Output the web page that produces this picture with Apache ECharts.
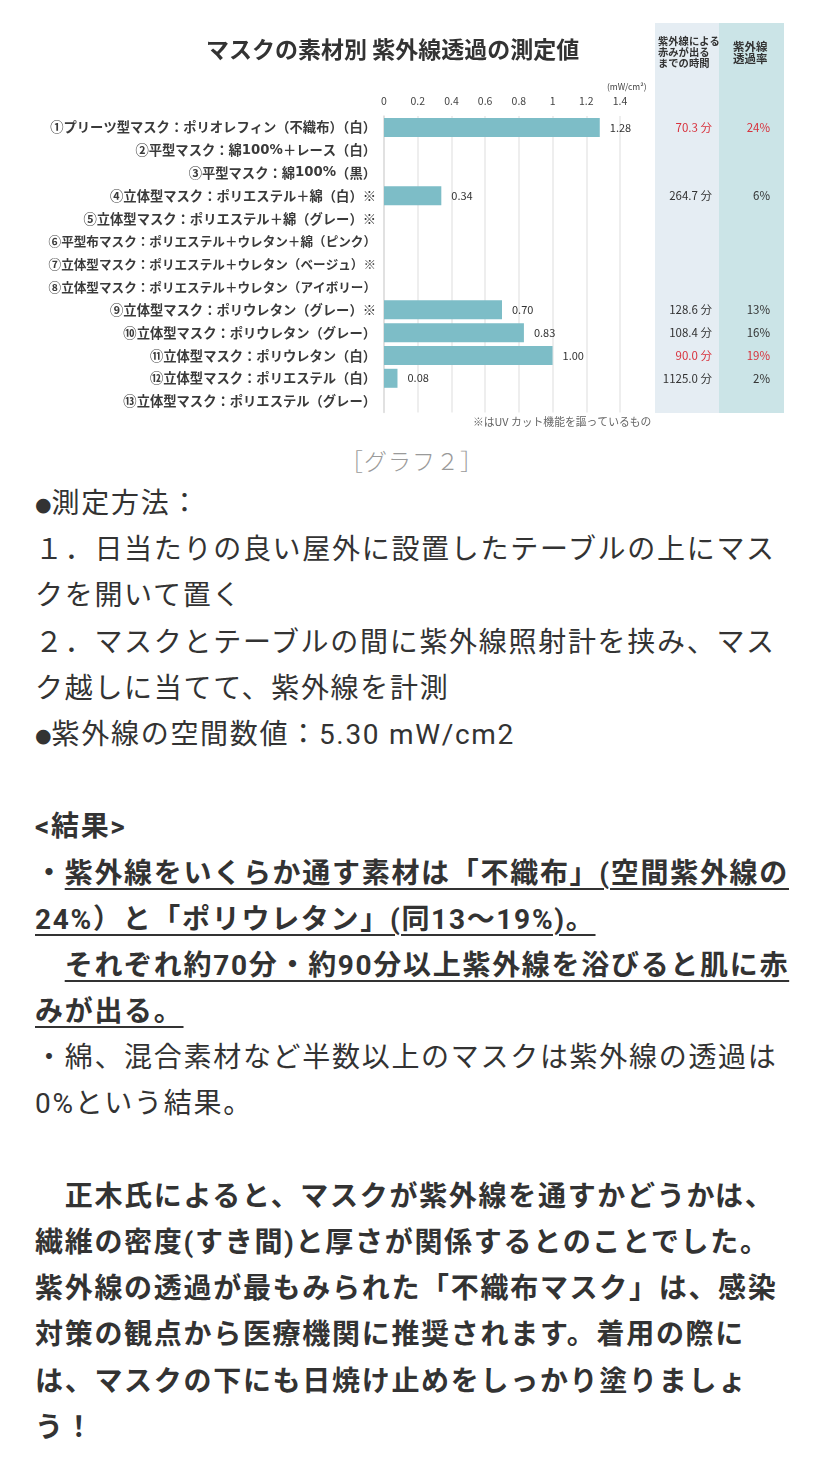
<!DOCTYPE html>
<html>
<head>
<meta charset="utf-8">
<script src="https://cdn.jsdelivr.net/npm/echarts@6/dist/echarts.min.js"></script>
<style>
  html, body { margin: 0; padding: 0; background: #fff; }
  body { width: 828px; height: 1464px; position: relative; overflow: hidden;
         font-family: Roboto, "Noto Sans CJK JP", "Noto Sans", sans-serif; }
  #chart { position: absolute; left: 0; top: 0; width: 828px; height: 440px; }
  #caption { position: absolute; left: 0; width: 824px; top: 444px; text-align: center;
             font-size: 23px; color: #9a9a9a; line-height: 32px; font-weight: 300; letter-spacing: 1px;
             font-family: "Noto Sans CJK JP", sans-serif; }
  #body { position: absolute; left: 35px; top: 481px; color: #333; font-size: 28px;
          letter-spacing: 1.7px; }
  #body div { height: 46.2px; line-height: 46.2px; white-space: nowrap; }
  .dot { font-family: "DejaVu Sans", sans-serif; font-size: 19px; letter-spacing: 0; vertical-align: 2px; }
  .b { font-weight: bold; }
  .u { text-decoration: underline; text-decoration-thickness: 2px; text-underline-offset: 5px; }
</style>
</head>
<body>
<div id="chart"></div>
<div id="caption">［グラフ２］</div>
<div id="body">
  <div><span class="dot">●</span>測定方法：</div>
  <div>１．日当たりの良い屋外に設置したテーブルの上にマス</div>
  <div>クを開いて置く</div>
  <div>２．マスクとテーブルの間に紫外線照射計を挟み、マス</div>
  <div>ク越しに当てて、紫外線を計測</div>
  <div><span class="dot">●</span>紫外線の空間数値：5.30 mW/cm2</div>
  <div></div>
  <div class="b">&lt;結果&gt;</div>
  <div class="b">・<span class="u">紫外線をいくらか通す素材は「不織布」(空間紫外線の</span></div>
  <div class="b"><span class="u">24%）と「ポリウレタン」(同13〜19%)。 </span></div>
  <div class="b">　<span class="u">それぞれ約70分・約90分以上紫外線を浴びると肌に赤</span></div>
  <div class="b"><span class="u">みが出る。 </span></div>
  <div>・綿、混合素材など半数以上のマスクは紫外線の透過は</div>
  <div>0%という結果。</div>
  <div></div>
  <div class="b">　正木氏によると、マスクが紫外線を通すかどうかは、</div>
  <div class="b">繊維の密度(すき間)と厚さが関係するとのことでした。</div>
  <div class="b">紫外線の透過が最もみられた「不織布マスク」は、感染</div>
  <div class="b">対策の観点から医療機関に推奨されます。着用の際に</div>
  <div class="b">は、マスクの下にも日焼け止めをしっかり塗りましょ</div>
  <div class="b">う！</div>
</div>
<script>
// ---- data ----
var categories = [
  '①プリーツ型マスク：ポリオレフィン（不織布）（白）',
  '②平型マスク：綿100%＋レース（白）',
  '③平型マスク：綿100%（黒）',
  '④立体型マスク：ポリエステル＋綿（白）※',
  '⑤立体型マスク：ポリエステル＋綿（グレー）※',
  '⑥平型布マスク：ポリエステル＋ウレタン＋綿（ピンク）',
  '⑦立体型マスク：ポリエステル＋ウレタン（ベージュ）※',
  '⑧立体型マスク：ポリエステル＋ウレタン（アイボリー）',
  '⑨立体型マスク：ポリウレタン（グレー）※',
  '⑩立体型マスク：ポリウレタン（グレー）',
  '⑪立体型マスク：ポリウレタン（白）',
  '⑫立体型マスク：ポリエステル（白）',
  '⑬立体型マスク：ポリエステル（グレー）'
];
var uvValues = [1.28, 0, 0, 0.34, 0, 0, 0, 0, 0.70, 0.83, 1.00, 0.08, 0];
var rednessMinutes = [70.3, null, null, 264.7, null, null, null, null, 128.6, 108.4, 90.0, 1125.0, null];
var transmissionRate = [24, null, null, 6, null, null, null, null, 13, 16, 19, 2, null];
var highlightRows = [0, 10];
var xTicks = { min: 0, max: 1.4, interval: 0.2 };
var chartTitle = 'マスクの素材別 紫外線透過の測定値';
var unitText = '(mW/cm²)';
var col1Header = '紫外線による\n赤みが出る\nまでの時間';
var col2Header = '紫外線\n透過率';
var footnote = '※はUV カット機能を謳っているもの';

var FONT = '"Noto Sans CJK JP", "Noto Sans", sans-serif';
var RED = '#d8313c';
var chart = echarts.init(document.getElementById('chart'), null, { renderer: 'canvas' });

function cellLabel(arr, fmt) {
  return function (value, idx) {
    var v = arr[idx];
    if (v === null || v === undefined) return '';
    var s = fmt(v);
    return highlightRows.indexOf(idx) >= 0 ? '{r|' + s + '}' : '{n|' + s + '}';
  };
}
var richCell = {
  n: { color: '#333', fontSize: 11.5, fontFamily: FONT },
  r: { color: RED, fontSize: 11.5, fontFamily: FONT }
};

// category label: the longest labels are set slightly condensed, ASCII digits in a wider face
function catLabel(value) {
  var long = value.length > 25;
  var style = long ? 'c' : 'a';
  var dstyle = long ? 'cd' : 'ad';
  return value.split(/([0-9%]+)/).filter(function (s) { return s.length; }).map(function (s) {
    return /^[0-9%]+$/.test(s) ? '{' + dstyle + '|' + s + '}' : '{' + style + '|' + s + '}';
  }).join('');
}
var labelBase = { color: '#3a3a3a', fontFamily: FONT, fontWeight: 'bold' };
var richCat = {
  a: Object.assign({ fontSize: 13.3 }, labelBase),
  c: Object.assign({ fontSize: 12.6 }, labelBase),
  ad: Object.assign({}, labelBase, { fontSize: 13.3, fontFamily: '"DejaVu Sans", sans-serif' }),
  cd: Object.assign({}, labelBase, { fontSize: 12.6, fontFamily: '"DejaVu Sans", sans-serif' })
};

chart.setOption({
  backgroundColor: '#fff',
  animation: false,
  title: {
    text: chartTitle,
    left: 201, top: 33,
    textStyle: { fontFamily: FONT, fontSize: 23, fontWeight: 'bold', color: '#333' }
  },
  grid: { left: 384, right: 208, top: 116, bottom: 27.5 },
  xAxis: {
    type: 'value', position: 'top',
    min: xTicks.min, max: xTicks.max, interval: xTicks.interval,
    axisLine: { show: false }, axisTick: { show: false },
    axisLabel: { fontSize: 10.5, color: '#444', margin: 10, fontFamily: FONT },
    splitLine: { show: true, lineStyle: { color: '#e9e9e9', width: 1.5 } }
  },
  yAxis: [
    {
      type: 'category', data: categories, inverse: true,
      axisLine: { show: true, lineStyle: { color: '#dcdcdc', width: 1.5 } },
      axisTick: { show: false },
      axisLabel: { interval: 0, margin: 8, formatter: catLabel, rich: richCat }
    },
    {
      type: 'category', data: categories, inverse: true, position: 'right', offset: 92,
      axisLine: { show: false }, axisTick: { show: false }, splitLine: { show: false },
      axisLabel: { interval: 0, align: 'right', margin: 0,
                   formatter: cellLabel(rednessMinutes, function (v) { return v.toFixed(1) + ' 分'; }),
                   rich: richCell }
    },
    {
      type: 'category', data: categories, inverse: true, position: 'right', offset: 150,
      axisLine: { show: false }, axisTick: { show: false }, splitLine: { show: false },
      axisLabel: { interval: 0, align: 'right', margin: 0,
                   formatter: cellLabel(transmissionRate, function (v) { return v + '%'; }),
                   rich: richCell }
    }
  ],
  graphic: [
    { type: 'rect', z: -10, shape: { x: 655, y: 23, width: 64, height: 390 }, style: { fill: '#e5edf3' } },
    { type: 'rect', z: -10, shape: { x: 719, y: 23, width: 65, height: 390 }, style: { fill: '#cbe4e7' } },
    { type: 'text', left: 658, top: 36,
      style: { text: col1Header, fontSize: 10.3, lineHeight: 11, fill: '#333', fontFamily: FONT, fontWeight: 'bold' } },
    { type: 'text', left: 733, top: 41,
      style: { text: col2Header, fontSize: 11.5, lineHeight: 12, fill: '#333', fontFamily: FONT, fontWeight: 'bold' } },
    { type: 'text', left: 607, top: 83,
      style: { text: unitText, fontSize: 8.5, fill: '#444', fontFamily: FONT } },
    { type: 'text', left: 473, top: 417,
      style: { text: footnote, fontSize: 10.8, fill: '#666', fontFamily: FONT } }
  ],
  series: [{
    type: 'bar',
    data: uvValues,
    barWidth: 19,
    itemStyle: { color: '#7dbdc7' },
    label: {
      show: true, position: 'right', distance: 10,
      fontSize: 11, color: '#333', fontFamily: FONT,
      formatter: function (p) { return p.value > 0 ? p.value.toFixed(2) : ''; }
    }
  }]
});
</script>
</body>
</html>
